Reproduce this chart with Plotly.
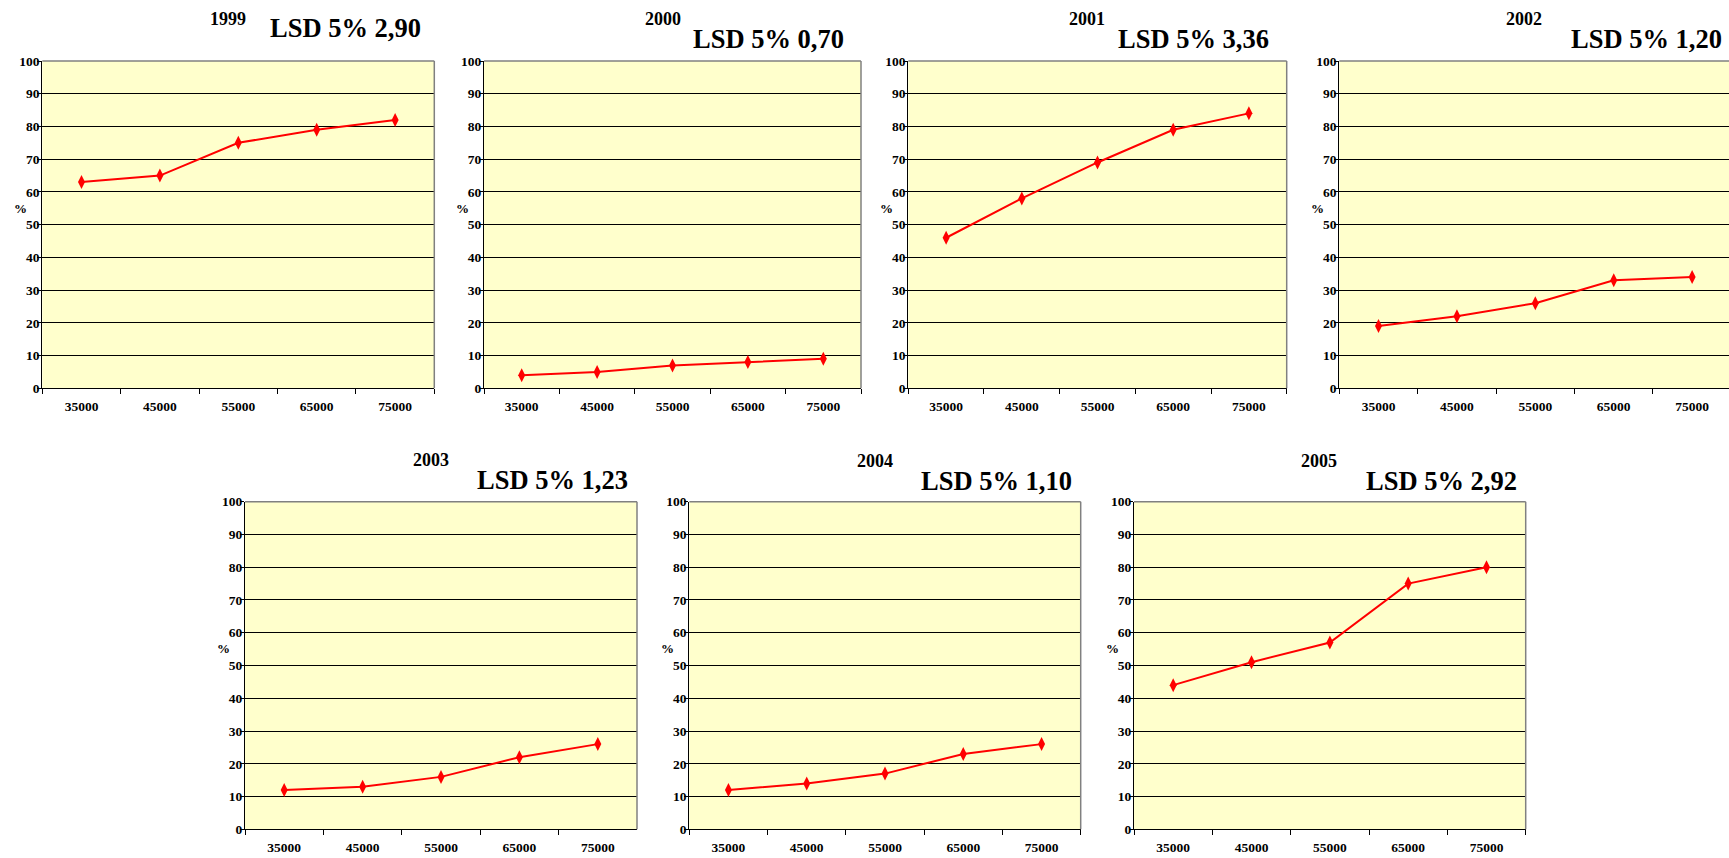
import plotly.graph_objects as go

# Seeding density categories (x axis)
densities = ["35000", "45000", "55000", "65000", "75000"]

# Percent values per year
years = ["1999", "2000", "2001", "2002", "2003", "2004", "2005"]
v1999 = [63, 65, 75, 79, 82]
v2000 = [4, 5, 7, 8, 9]
v2001 = [46, 58, 69, 79, 84]
v2002 = [19, 22, 26, 33, 34]
v2003 = [12, 13, 16, 22, 26]
v2004 = [12, 14, 17, 23, 26]
v2005 = [44, 51, 57, 75, 80]
series = [v1999, v2000, v2001, v2002, v2003, v2004, v2005]

# LSD 5% label for each year
lsd = ["2,90", "0,70", "3,36", "1,20", "1,23", "1,10", "2,92"]

y_ticks = [0, 10, 20, 30, 40, 50, 60, 70, 80, 90, 100]

W, H = 1729, 858

# Panel frames in pixels: left, right, top, bottom, x-range max
panels = [
    (42.3, 434.3, 61, 388.3, 4.5),
    (484, 861, 61, 388.3, 4.5),
    (908.3, 1286.7, 61, 388.3, 4.5),
    (1339.3, 1729, 61, 388.3, 4.47),
    (245, 637, 501.7, 829.3, 4.5),
    (689.3, 1080.7, 501.7, 829.3, 4.5),
    (1134, 1525.7, 501.7, 829.3, 4.5),
]
# Caption centres in pixels: (year x, year y, lsd x, lsd y)
captions = [
    (228, 19, 345, 28),
    (662.7, 19, 768.3, 39.3),
    (1087.3, 19, 1193.3, 39),
    (1524, 19, 1646.7, 39),
    (430.7, 460, 552, 480),
    (875, 460.7, 996.7, 480.7),
    (1319, 460.7, 1441, 480.7),
]

FONT = "Liberation Serif, 'Times New Roman', Times, serif"
RED = "#FF0000"


def px(x):
    return x / W


def py(y):
    return 1 - y / H


fig = go.Figure()
annotations = []
shapes = []

for i, (yr, vals) in enumerate(zip(years, series)):
    n = "" if i == 0 else str(i + 1)
    left, right, top, bottom, xmax = panels[i]
    fig.add_trace(go.Scatter(
        x=densities, y=vals, mode="lines+markers",
        xaxis="x" + n, yaxis="y" + n,
        line=dict(color=RED, width=2),
        marker=dict(symbol="diamond-tall", size=10, color=RED),
        showlegend=False, hoverinfo="x+y",
    ))
    fig.layout["xaxis" + n] = dict(
        type="category", domain=[px(left), px(right)], anchor="y" + n,
        range=[-0.5, xmax], categoryorder="array", categoryarray=densities,
        showgrid=False, zeroline=False, automargin=False,
        showline=True, linecolor="black", linewidth=1,
        ticks="outside", tickson="boundaries", ticklen=5, tickcolor="black",
        ticklabelstandoff=5,
        tickfont=dict(family=FONT, size=13.5, color="black", weight="bold"),
        fixedrange=True,
    )
    fig.layout["yaxis" + n] = dict(
        domain=[py(bottom), py(top)], anchor="x" + n,
        range=[0, 100], tickvals=y_ticks, automargin=False,
        showgrid=True, gridcolor="black", gridwidth=1, zeroline=False,
        showline=True, linecolor="black", linewidth=1,
        ticks="outside", ticklen=4, tickcolor="black",
        ticklabelstandoff=-5,
        tickfont=dict(family=FONT, size=13.5, color="black", weight="bold"),
        fixedrange=True,
    )
    # yellow plot background
    shapes.append(dict(
        type="rect", xref="paper", yref="paper", layer="below",
        x0=px(left), x1=px(right), y0=py(bottom), y1=py(top),
        fillcolor="#FFFFCC", line=dict(width=0),
    ))
    # grey frame on top and right
    shapes.append(dict(
        type="line", xref="paper", yref="paper",
        x0=px(left), x1=px(right), y0=py(top), y1=py(top),
        line=dict(color="#808080", width=1.5),
    ))
    if xmax >= 4.5:
        shapes.append(dict(
            type="line", xref="paper", yref="paper",
            x0=px(right), x1=px(right), y0=py(bottom), y1=py(top),
            line=dict(color="#808080", width=1.5),
        ))
    yx, yy, lx, ly = captions[i]
    annotations.append(dict(
        text=yr, xref="paper", yref="paper", x=px(yx), y=py(yy),
        xanchor="center", yanchor="middle", showarrow=False,
        font=dict(family=FONT, size=18, color="black", weight="bold"),
    ))
    annotations.append(dict(
        text="LSD 5% " + lsd[i], xref="paper", yref="paper", x=px(lx), y=py(ly),
        xanchor="center", yanchor="middle", showarrow=False,
        font=dict(family=FONT, size=26.5, color="black", weight="bold"),
    ))
    annotations.append(dict(
        text="%", xref="paper", yref="paper", x=px(left - 22), y=py(top + 147),
        xanchor="center", yanchor="middle", showarrow=False,
        font=dict(family=FONT, size=13, color="black", weight="bold"),
    ))

fig.update_layout(
    width=W, height=H,
    margin=dict(l=0, r=0, t=0, b=0),
    paper_bgcolor="white", plot_bgcolor="rgba(0,0,0,0)",
    annotations=annotations, shapes=shapes,
)

fig.write_html("out.html", config={"displayModeBar": False})
